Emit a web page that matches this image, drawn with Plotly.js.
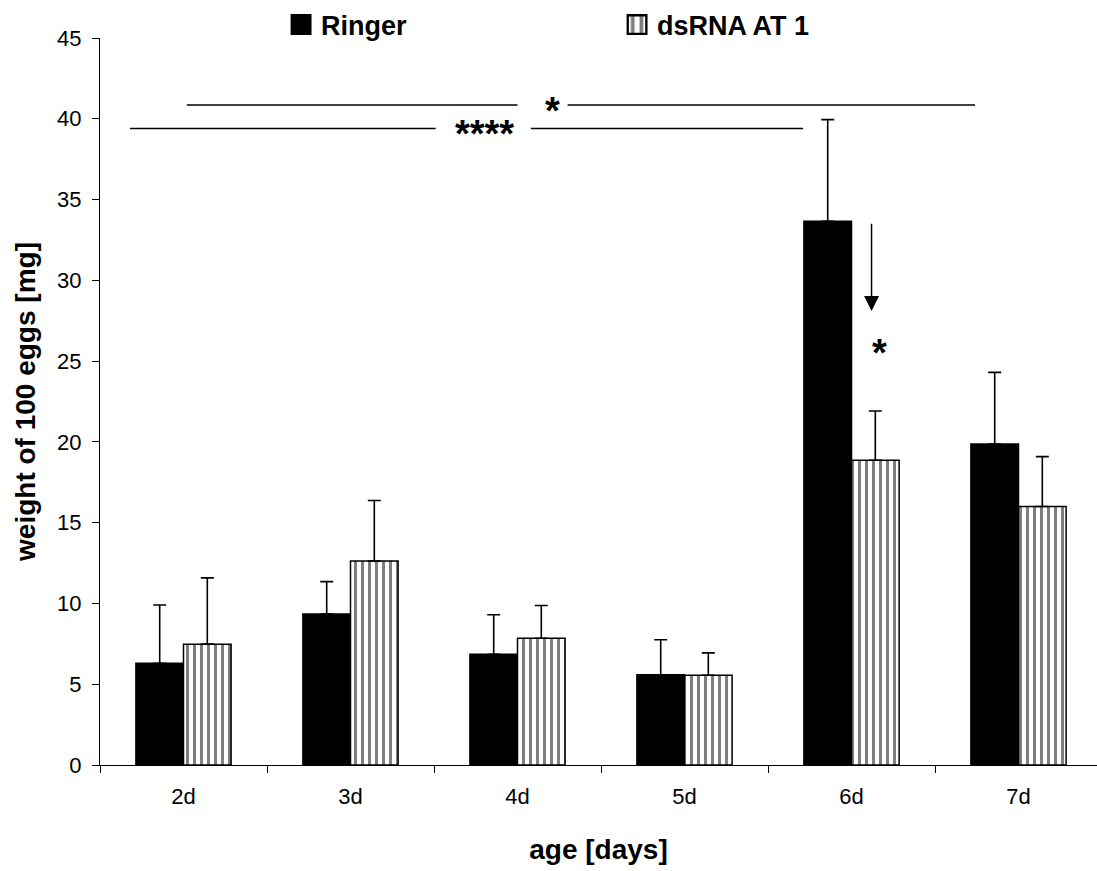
<!DOCTYPE html>
<html>
<head>
<meta charset="utf-8">
<script src="https://cdn.plot.ly/plotly-3.0.1.min.js"></script>
<style>html,body{margin:0;padding:0;background:#fff;}#chart{width:1097px;height:871px;}</style>
</head>
<body>
<div id="chart"></div>
<script>
// ---- data ----
const categories = ['2d', '3d', '4d', '5d', '6d', '7d'];
const ringerMean = [6.3, 9.35, 6.85, 5.58, 33.65, 19.87];
const ringerErr  = [3.6, 2.0, 2.45, 2.17, 6.3, 4.43];
const dsrnaMean  = [7.48, 12.62, 7.85, 5.56, 18.86, 16.0];
const dsrnaErr   = [4.1, 3.75, 2.02, 1.38, 3.05, 3.09];
const seriesNames = ['Ringer', 'dsRNA AT 1'];
const yTicks = [0, 5, 10, 15, 20, 25, 30, 35, 40, 45];

// significance markers (x in category index units, y in data units)
const sigLabels = ['*', '****', '*'];
const sigLabelX = [2.21, 1.80, 4.17];
const sigLabelY = [40.85, 39.4, 25.9];
const sigSegX0 = [0.02, 2.30, -0.32, 2.08];
const sigSegX1 = [2.00, 4.74, 1.51, 3.71];
const sigSegY  = [40.85, 40.85, 39.4, 39.4];
const arrowX = 4.12, arrowFrom = 33.6, arrowTo = 28.1;

const FONT = '"Liberation Sans", Arial, Helvetica, sans-serif';

const traces = [
  {
    type: 'bar', name: seriesNames[0], x: categories, y: ringerMean,
    marker: {color: '#000', line: {color: '#000', width: 1.5}},
    error_y: {type: 'data', symmetric: false, array: ringerErr,
              arrayminus: ringerErr.map(() => 0), color: '#000', thickness: 1.6, width: 6.5}
  },
  {
    type: 'bar', name: seriesNames[1], x: categories, y: dsrnaMean,
    marker: {color: '#fff', line: {color: '#000', width: 1.5},
             pattern: {shape: '|', fgcolor: '#000', bgcolor: '#fff', size: 7, solidity: 0.43, fillmode: 'overlay'}},
    error_y: {type: 'data', symmetric: false, array: dsrnaErr,
              arrayminus: dsrnaErr.map(() => 0), color: '#000', thickness: 1.6, width: 6.5}
  }
];

const shapes = sigSegX0.map((x0, i) => ({
  type: 'line', xref: 'x', yref: 'y', x0: x0, x1: sigSegX1[i], y0: sigSegY[i], y1: sigSegY[i],
  line: {color: '#000', width: 1.5}
}));

const annotations = sigLabels.map((t, i) => ({
  text: t, x: sigLabelX[i], y: sigLabelY[i], xref: 'x', yref: 'y', showarrow: false,
  font: {family: FONT, size: 38, color: '#000', weight: 'bold'}, yshift: -6
}));
annotations.push({
  x: arrowX, y: arrowTo, ax: arrowX, ay: arrowFrom, xref: 'x', yref: 'y', axref: 'x', ayref: 'y',
  text: '', showarrow: true, arrowhead: 2, arrowsize: 2, arrowwidth: 1.5, arrowcolor: '#000'
});

const layout = {
  width: 1097, height: 871,
  margin: {l: 100, r: 0, t: 38, b: 106},
  paper_bgcolor: '#fff', plot_bgcolor: '#fff',
  font: {family: FONT, color: '#000'},
  barmode: 'group', bargap: 0.43, bargroupgap: 0,
  showlegend: true,
  legend: {orientation: 'h', x: 0.1816, xanchor: 'left', y: 1.0179, yanchor: 'middle',
           font: {family: FONT, size: 27, color: '#000', weight: 'bold'},
           entrywidth: 291, entrywidthmode: 'pixels', itemwidth: 30, bgcolor: 'rgba(0,0,0,0)'},
  xaxis: {
    type: 'category', range: [-0.5, 5.47], tickson: 'boundaries',
    showline: true, linecolor: '#000', linewidth: 1, ticks: 'outside', ticklen: 7, tickcolor: '#000',
    showgrid: false, zeroline: false, ticklabelstandoff: 12,
    tickfont: {family: FONT, size: 22, color: '#000'},
    title: {text: 'age [days]', standoff: 30, font: {family: FONT, size: 28, color: '#000', weight: 'bold'}}
  },
  yaxis: {
    range: [0, 45], tickvals: yTicks, ticktext: yTicks.map(String),
    showline: true, linecolor: '#000', linewidth: 1, ticks: 'outside', ticklen: 7, tickcolor: '#000',
    showgrid: false, zeroline: false, ticklabelstandoff: 6,
    tickfont: {family: FONT, size: 22, color: '#000'},
    title: {text: 'weight of 100 eggs [mg]', standoff: 13, font: {family: FONT, size: 28, color: '#000', weight: 'bold'}}
  },
  shapes: shapes,
  annotations: annotations
};

Plotly.newPlot('chart', traces, layout, {displayModeBar: false, staticPlot: true}).then(() => {
  document.querySelectorAll('.legend .legendpoints path').forEach(p => {
    const t = p.getAttribute('transform') || '';
    p.setAttribute('transform', (t + ' scale(1.55)').trim());
  });
});
</script>
</body>
</html>
